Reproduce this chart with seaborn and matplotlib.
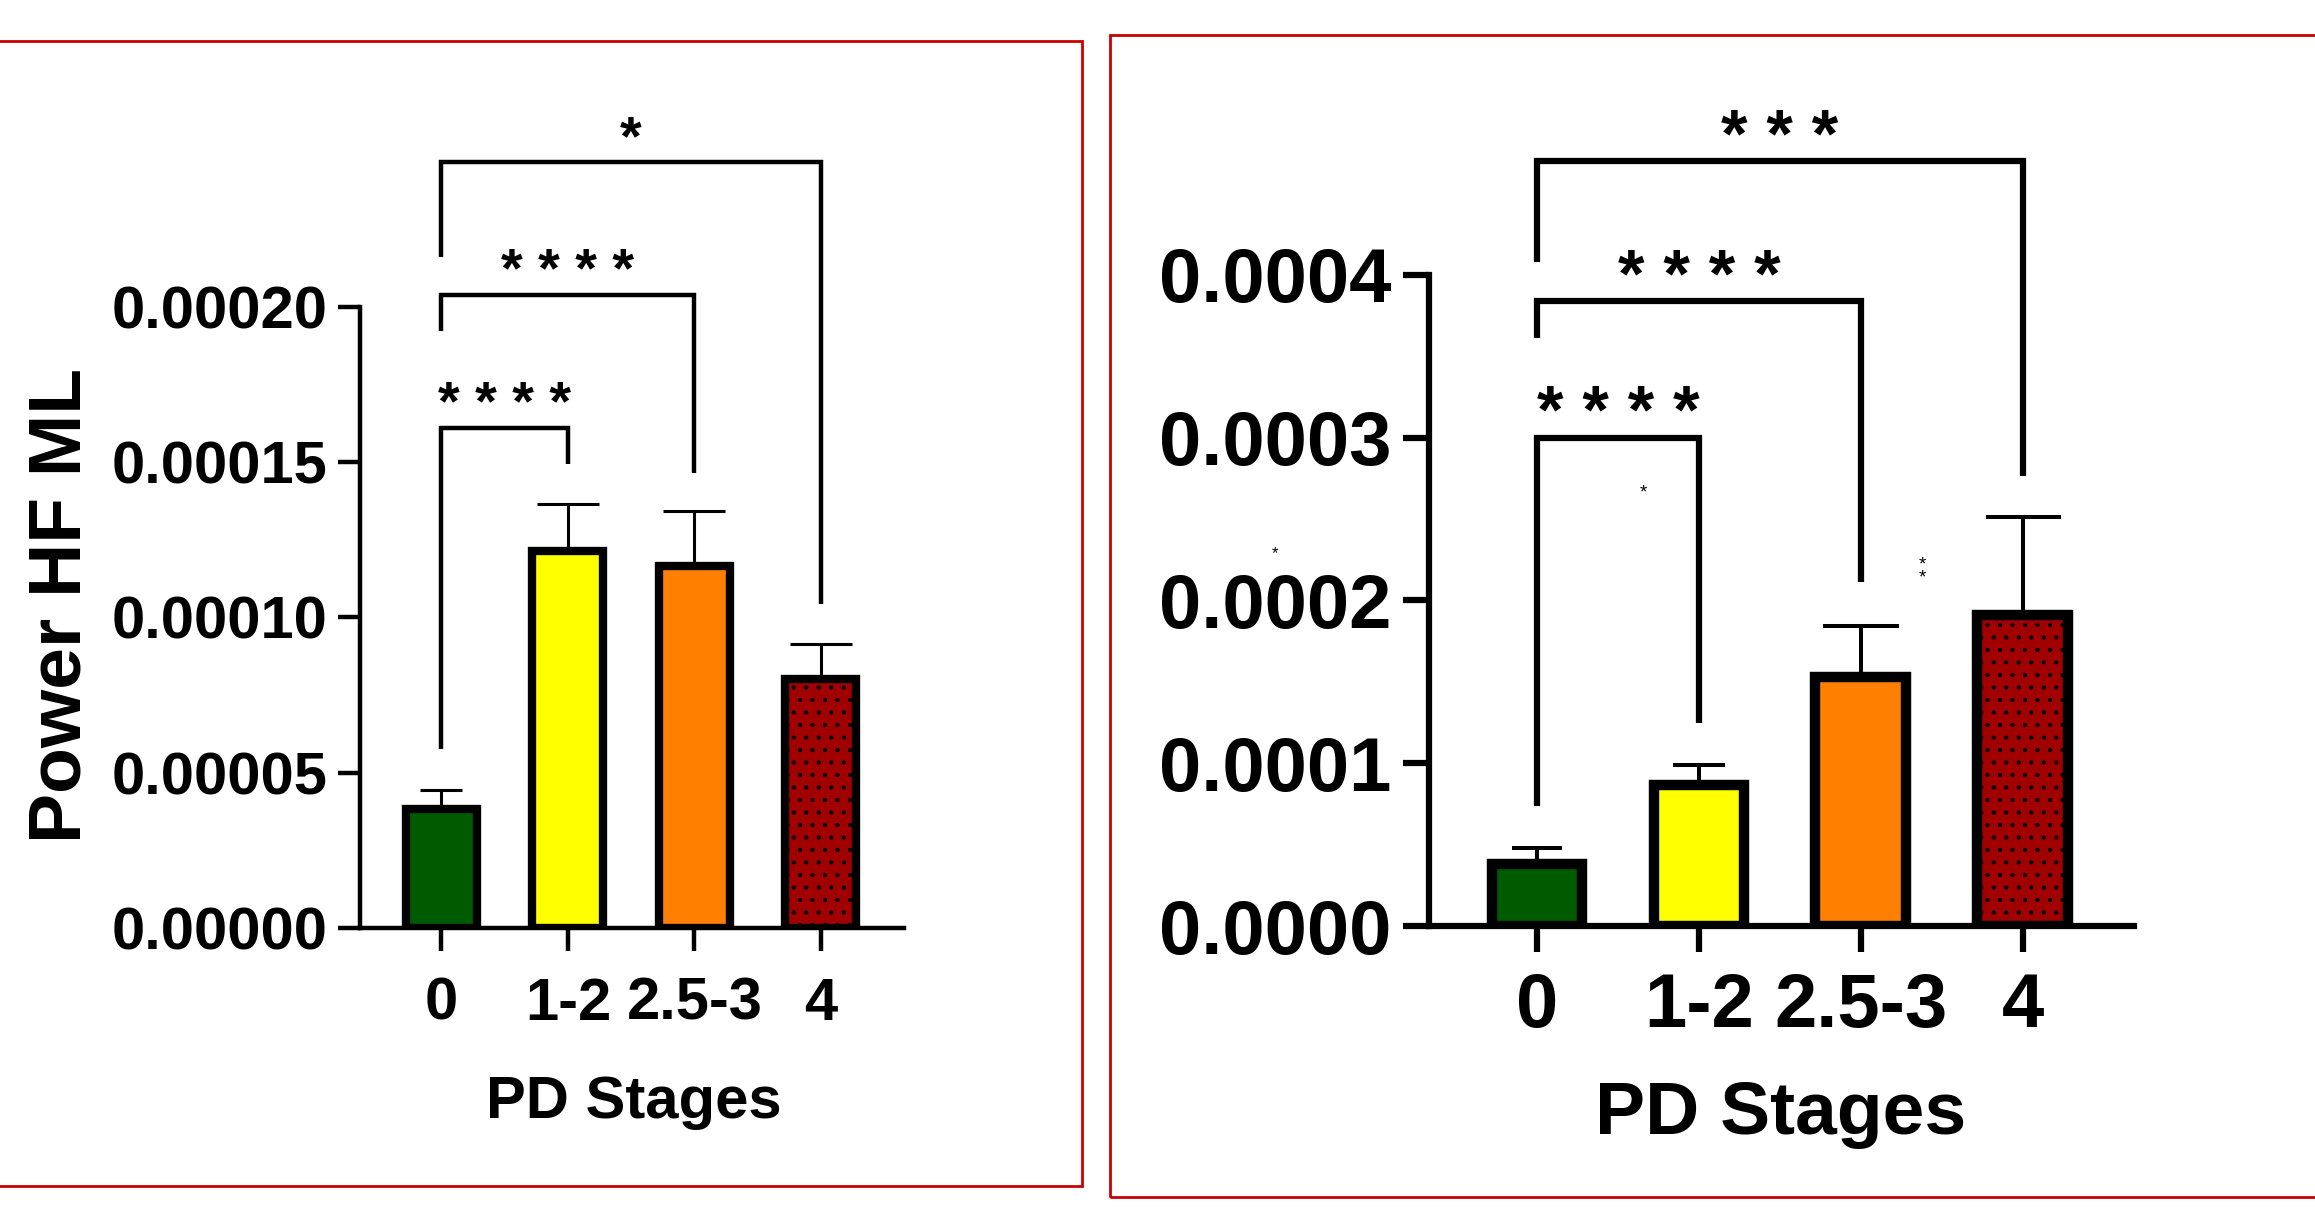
import seaborn as sns
import matplotlib.pyplot as plt
from matplotlib.patches import Rectangle
from matplotlib.ticker import FormatStrFormatter

# values (mean + SEM, only the upper whisker is drawn)
stages = ["0", "1-2", "2.5-3", "4"]
bar_colors = ["#005A00", "#FFFF00", "#FF8000", "#A00000"]

left_mean = [0.0000381, 0.0001215, 0.0001167, 0.0000800]
left_sem = [0.0000062, 0.0000152, 0.0000176, 0.0000114]
right_mean = [0.0000384, 0.0000866, 0.0001530, 0.0001910]
right_sem = [0.0000098, 0.0000125, 0.0000315, 0.0000600]

# comparisons of stage 0 against the other stages
comp_targets = [1, 2, 3]
left_labels = ["* * * *", "* * * *", "*"]
right_labels = ["* * * *", "* * * *", "* * *"]
left_bracket_top = [0.000161, 0.0002038, 0.0002467]
left_leg_start = [0.0000576, 0.0001924, 0.0002162]
left_leg_end = [0.0001495, 0.0001467, 0.0001043]
right_bracket_top = [0.000300, 0.000384, 0.000470]
right_leg_start = [0.0000736, 0.000361, 0.000408]
right_leg_end = [0.0001245, 0.0002114, 0.0002766]

sns.set_style("ticks")
plt.rcParams['font.family'] = ['Liberation Sans', 'DejaVu Sans']
plt.rcParams['font.weight'] = 'bold'
plt.rcParams['hatch.linewidth'] = 0.8
for k in ['text.color', 'axes.labelcolor', 'xtick.color', 'ytick.color', 'axes.edgecolor']:
    plt.rcParams[k] = 'black'

# dpi 150 so the dot hatch gets the fine spacing of the original
fig = plt.figure(figsize=(2315 / 150, 1229 / 150), dpi=150)


def panel(rect, means, sems, ylim, fmt, fs, star_fs, lw, edge_lw, caps, err_lw,
          tops, starts, ends, labels, xlim, star_off, xpad):
    ax = fig.add_axes(rect)
    sns.barplot(x=stages, y=means, hue=stages, palette=bar_colors, legend=False,
                errorbar=None, saturation=1, width=0.56, edgecolor='black',
                linewidth=edge_lw, ax=ax, zorder=2)
    ax.patches[3].set_hatch('..')
    for i in range(len(stages)):
        ax.errorbar(i, means[i], yerr=[[0], [sems[i]]], fmt='none', ecolor='black',
                    elinewidth=err_lw, capsize=caps[i], capthick=err_lw, zorder=1)
    for j, top, a, b, lab in zip(comp_targets, tops, starts, ends, labels):
        ax.plot([0, 0, j, j], [a, top, top, b], color='black', lw=lw, clip_on=False,
                solid_joinstyle='miter', solid_capstyle='butt')
        ax.annotate(lab, (j / 2, top), xytext=(0, star_off), textcoords='offset points',
                    ha='center', va='baseline', fontsize=star_fs, fontweight='bold',
                    annotation_clip=False)
    ax.set_ylim(*ylim)
    ax.set_xlim(*xlim)
    ax.yaxis.set_major_formatter(FormatStrFormatter(fmt))
    sns.despine(ax=ax)
    for s in ['left', 'bottom']:
        ax.spines[s].set_linewidth(lw)
    ax.tick_params(axis='y', length=fs * 0.36, width=lw, pad=5.3, labelsize=fs)
    ax.tick_params(axis='x', length=fs * 0.38, width=lw, pad=xpad, labelsize=fs)
    return ax


ax1 = panel([0.1556, 0.2452, 0.2347, 0.5048], left_mean, left_sem, (0, 0.0002),
            '%.5f', 28.7, 26.7, 2.13, 4, [10, 15, 14.7, 15], 1.47,
            left_bracket_top, left_leg_start, left_leg_end, left_labels,
            (-0.642, 3.654), 4, 12.7)
ax1.set_yticks([0, 0.00005, 0.0001, 0.00015, 0.0002])
ax1.set_xlabel("PD Stages", fontsize=28.7, fontweight='bold', va='top')
ax1.xaxis.set_label_coords(0.503, -0.238)
ax1.set_ylabel("Power HF ML", fontsize=36, fontweight='bold')
ax1.yaxis.set_label_coords(-0.488, 0.519)

ax2 = panel([0.6173, 0.2464, 0.3043, 0.53], right_mean, right_sem, (0, 0.0004),
            '%.4f', 36.5, 32.7, 3, 5, [12, 12.7, 18.4, 18], 1.93,
            right_bracket_top, right_leg_start, right_leg_end, right_labels,
            (-0.666, 3.684), 2, 9.5)
ax2.tick_params(axis='y', length=12.7, pad=5.3)
ax2.tick_params(axis='x', length=12.7)
ax2.set_yticks([0, 0.0001, 0.0002, 0.0003, 0.0004])
ax2.set_xlabel("PD Stages", fontsize=36, fontweight='bold', va='top')
ax2.xaxis.set_label_coords(0.499, -0.236)
ax2.set_ylabel("")

# stray small asterisks that appear in the right panel
for x, y, t in [(0.66, 0.000266, "*"), (2.38, 0.000218, "*\n*")]:
    ax2.text(x, y, t, ha='center', va='center', fontsize=9, fontweight='normal',
             linespacing=0.7, clip_on=False)
# the one above the 0.0002 tick label sits just clear of it
ax2.text(-1.62, 0.000224, "*", ha='center', va='bottom', fontsize=8,
         fontweight='normal', clip_on=False)

# red frames round both panels
fig.add_artist(Rectangle((-0.01, 0.0349), 0.4775, 0.9314, transform=fig.transFigure,
                         fill=False, edgecolor='#C80000', linewidth=1.33))
fig.add_artist(Rectangle((0.4796, 0.0264), 0.55, 0.9448, transform=fig.transFigure,
                         fill=False, edgecolor='#C80000', linewidth=1.33))

fig.savefig("out.png", dpi=150)
